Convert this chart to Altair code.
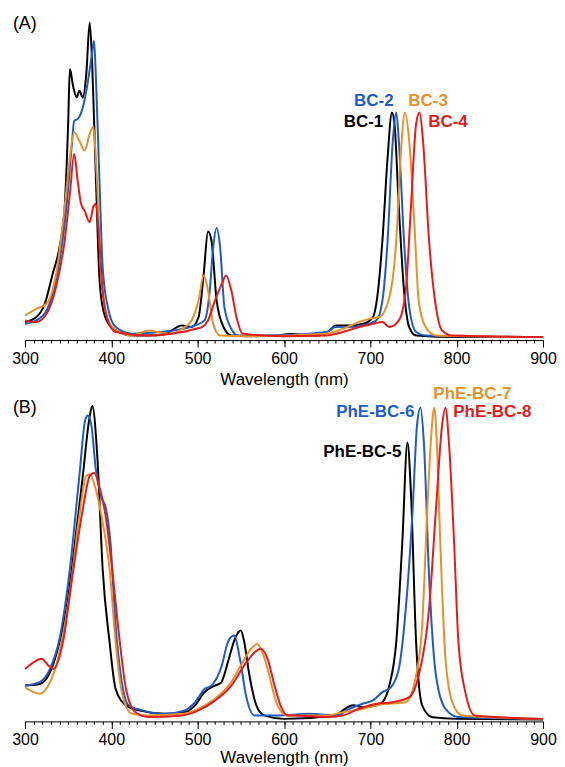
import altair as alt
import pandas as pd

# ---------------- Panel A data ----------------
A_names = ["BC-1", "BC-2", "BC-3", "BC-4"]

bc1_wl = [300,313,323,332,340,346,350,352,356,360,363,367,371,375,378,382,386,390,397,409,424,443,462,482,493,501,507,512,516,522,530,539,560,592,607,638,653,660,676,691,703,708,714,720,725,728,733,739,745,753,800,900]
bc1_ab = [0.048,0.063,0.106,0.20,0.286,0.413,0.677,0.852,0.794,0.762,0.783,0.762,0.836,1.0,0.857,0.52,0.20,0.095,0.042,0.016,0.005,0.005,0.01,0.037,0.032,0.063,0.20,0.336,0.307,0.116,0.032,0.005,0.003,0.005,0.01,0.005,0.021,0.037,0.037,0.042,0.063,0.127,0.307,0.571,0.714,0.677,0.413,0.148,0.032,0.005,0.0,0.0]

bc2_wl = [300,313,325,336,348,354,357,361,367,373,377,380,382,386,390,396,405,424,455,482,497,508,514,518,522,526,531,539,547,592,649,660,676,691,707,714,720,726,730,733,739,745,753,764,900]
bc2_ab = [0.042,0.053,0.085,0.18,0.413,0.603,0.688,0.693,0.73,0.815,0.889,0.942,0.836,0.52,0.222,0.095,0.032,0.011,0.016,0.026,0.037,0.053,0.148,0.286,0.347,0.286,0.095,0.026,0.005,0.005,0.016,0.032,0.032,0.037,0.053,0.116,0.307,0.624,0.714,0.624,0.307,0.095,0.016,0.005,0.0]

bc3_wl = [300,313,325,336,346,352,357,363,369,375,379,383,388,394,401,424,443,455,470,482,493,501,507,512,518,526,560,649,668,687,699,710,722,730,735,740,745,751,756,764,776,900]
bc3_ab = [0.069,0.09,0.106,0.20,0.413,0.571,0.651,0.624,0.593,0.646,0.669,0.52,0.20,0.074,0.032,0.005,0.021,0.016,0.011,0.026,0.053,0.116,0.196,0.148,0.042,0.005,0.003,0.011,0.026,0.048,0.058,0.063,0.127,0.307,0.571,0.714,0.624,0.36,0.116,0.032,0.005,0.0]

bc4_wl = [300,313,325,336,346,352,357,361,365,369,375,379,382,386,390,396,405,443,482,497,505,512,520,528,533,539,545,552,600,649,668,687,703,714,722,733,741,747,753,757,761,768,776,783,795,900]
bc4_ab = [0.053,0.048,0.074,0.159,0.307,0.455,0.582,0.497,0.423,0.402,0.365,0.413,0.423,0.307,0.148,0.053,0.016,0.005,0.016,0.026,0.032,0.053,0.116,0.169,0.196,0.148,0.063,0.011,0.003,0.005,0.016,0.032,0.042,0.048,0.032,0.053,0.148,0.413,0.677,0.714,0.624,0.307,0.095,0.021,0.005,0.0]

# ---------------- Panel B data ----------------
B_names = ["PhE-BC-5", "PhE-BC-6", "PhE-BC-7", "PhE-BC-8"]

p5_wl = [300,317,329,340,348,357,367,375,378,384,390,398,405,417,432,462,485,497,508,520,527,535,543,550,554,560,568,577,600,660,668,680,691,707,714,722,730,737,743,747,753,760,772,800,900]
p5_ab = [0.111,0.116,0.153,0.249,0.354,0.545,0.778,0.968,1.0,0.83,0.48,0.249,0.10,0.048,0.032,0.021,0.026,0.048,0.09,0.111,0.12,0.185,0.259,0.286,0.249,0.143,0.048,0.016,0.005,0.016,0.032,0.048,0.042,0.048,0.058,0.111,0.249,0.566,0.884,0.725,0.249,0.048,0.01,0.005,0.003]

p6_wl = [300,317,329,340,352,363,370,373,377,382,388,394,399,405,411,420,436,462,485,497,508,516,528,535,542,549,556,566,591,630,661,676,691,703,714,724,733,741,749,754,758,762,768,776,787,802,900]
p6_ab = [0.111,0.122,0.164,0.259,0.481,0.778,0.958,0.97,0.937,0.80,0.714,0.672,0.566,0.30,0.143,0.048,0.032,0.021,0.032,0.058,0.10,0.111,0.175,0.249,0.27,0.196,0.079,0.016,0.016,0.021,0.016,0.037,0.053,0.064,0.09,0.106,0.164,0.354,0.672,0.937,0.995,0.884,0.46,0.143,0.037,0.011,0.005]

p7_wl = [300,310,317,327,340,352,363,371,375,382,390,398,405,413,424,443,482,501,520,539,550,562,569,575,583,591,603,650,668,691,707,722,741,753,760,766,770,774,777,781,787,795,806,900]
p7_ab = [0.106,0.09,0.085,0.111,0.217,0.407,0.651,0.778,0.783,0.735,0.63,0.481,0.249,0.079,0.021,0.016,0.021,0.037,0.069,0.122,0.175,0.228,0.243,0.217,0.143,0.058,0.016,0.016,0.026,0.037,0.048,0.053,0.058,0.143,0.30,0.672,0.884,0.995,0.884,0.566,0.196,0.058,0.016,0.005]

p8_wl = [300,310,319,327,333,344,355,367,375,380,386,394,401,409,417,428,443,482,501,520,539,554,566,573,581,589,596,604,611,649,668,687,707,726,745,756,768,776,783,787,791,797,802,810,821,900]
p8_ab = [0.164,0.185,0.196,0.175,0.164,0.249,0.46,0.672,0.778,0.788,0.746,0.64,0.48,0.27,0.10,0.026,0.011,0.016,0.032,0.063,0.111,0.175,0.217,0.228,0.196,0.111,0.048,0.016,0.016,0.011,0.016,0.037,0.053,0.058,0.074,0.143,0.354,0.672,0.937,0.995,0.884,0.566,0.249,0.09,0.016,0.005]

# tick values
major_ticks = [300, 400, 500, 600, 700, 800, 900]
minor_ticks = list(range(300, 901, 10))

# label annotations (wavelength, relative absorbance)
A_label_x = [715, 727, 744, 767]
A_label_y = [0.683, 0.752, 0.752, 0.683]
A_label_align = ["right", "right", "left", "left"]
B_label_x = [736, 751, 773, 796]
B_label_y = [0.854, 0.981, 1.038, 0.981]
B_label_align = ["right", "right", "left", "left"]

colors = ["#000000", "#1f5cbf", "#e3922c", "#e01e1e"]
FONT = "Liberation Sans"


def build_df(names, wls, abss):
    rows = []
    for n, w, a in zip(names, wls, abss):
        for i, (x, y) in enumerate(zip(w, a)):
            rows.append({"name": n, "wl": x, "abs": y, "order": i})
    return pd.DataFrame(rows)


dfA = build_df(A_names, [bc1_wl, bc2_wl, bc3_wl, bc4_wl], [bc1_ab, bc2_ab, bc3_ab, bc4_ab])
dfB = build_df(B_names, [p5_wl, p6_wl, p7_wl, p8_wl], [p5_ab, p6_ab, p7_ab, p8_ab])

labA = pd.DataFrame({"name": A_names, "wl": A_label_x, "abs": A_label_y, "align": A_label_align})
labB = pd.DataFrame({"name": B_names, "wl": B_label_x, "abs": B_label_y, "align": B_label_align})


def major_axis(title_pad):
    return alt.Axis(
        values=major_ticks,
        orient="bottom",
        tickSize=7,
        labelOverlap=False,
        labelFlush=False,
        grid=False,
        title="Wavelength (nm)",
        labelFont=FONT, titleFont=FONT,
        labelFontSize=16, titleFontSize=17,
        titleFontWeight="normal",
        labelColor="black", titleColor="black",
        domainColor="black", tickColor="black",
        domainWidth=1, tickWidth=1,
        labelPadding=3, titlePadding=title_pad,
    )


minor_axis = alt.Axis(
    values=minor_ticks,
    orient="bottom",
    tickSize=3,
    labels=False,
    domain=False,
    grid=False,
    title=None,
    tickColor="black",
    tickWidth=1,
)


def panel(df, lab, names, ydomain, tag, tag_y, title_pad):
    xscale = alt.Scale(domain=[300, 900], nice=False)
    ys = alt.Y("abs:Q", scale=alt.Scale(domain=ydomain, nice=False, zero=False), axis=None)
    col = alt.Color("name:N", scale=alt.Scale(domain=names, range=colors), legend=None)

    lines = alt.Chart(df).mark_line(strokeWidth=2, interpolate="monotone", clip=True).encode(
        x=alt.X("wl:Q", scale=xscale, axis=major_axis(title_pad)), y=ys, color=col,
        order="order:Q", detail="name:N"
    )
    xs_none = alt.X("wl:Q", scale=xscale, axis=None)
    left = alt.Chart(lab).transform_filter(alt.datum.align == "left").mark_text(
        align="left", baseline="middle", font=FONT, fontSize=17, fontWeight="bold"
    ).encode(x=xs_none, y=ys, text="name:N", color=col)
    right = alt.Chart(lab).transform_filter(alt.datum.align == "right").mark_text(
        align="right", baseline="middle", font=FONT, fontSize=17, fontWeight="bold"
    ).encode(x=xs_none, y=ys, text="name:N", color=col)
    tagdf = pd.DataFrame({"t": [tag], "wl": [286], "abs": [tag_y]})
    tagm = alt.Chart(tagdf).mark_text(
        align="left", baseline="middle", font=FONT, fontSize=18, color="black"
    ).encode(x=alt.X("wl:Q", scale=xscale, axis=minor_axis), y=ys, text="t:N")
    return (
        alt.layer(lines, left, right, tagm)
        .resolve_axis(x="independent")
        .properties(width=519, height=320)
    )


pA = panel(dfA, labA, A_names, [-0.0095, 1.006], "(A)", 0.995, 5)
pB = panel(dfB, labB, B_names, [-0.003, 1.013], "(B)", 0.994, 2)

chart = (
    alt.vconcat(pA, pB, spacing=62, bounds="flush")
    .properties(padding={"left": 3, "top": 6, "right": 0, "bottom": 0})
    .configure_view(stroke=None)
    .resolve_scale(color="independent")
)

chart.save("out.html", embed_options={"renderer": "svg", "actions": False})
